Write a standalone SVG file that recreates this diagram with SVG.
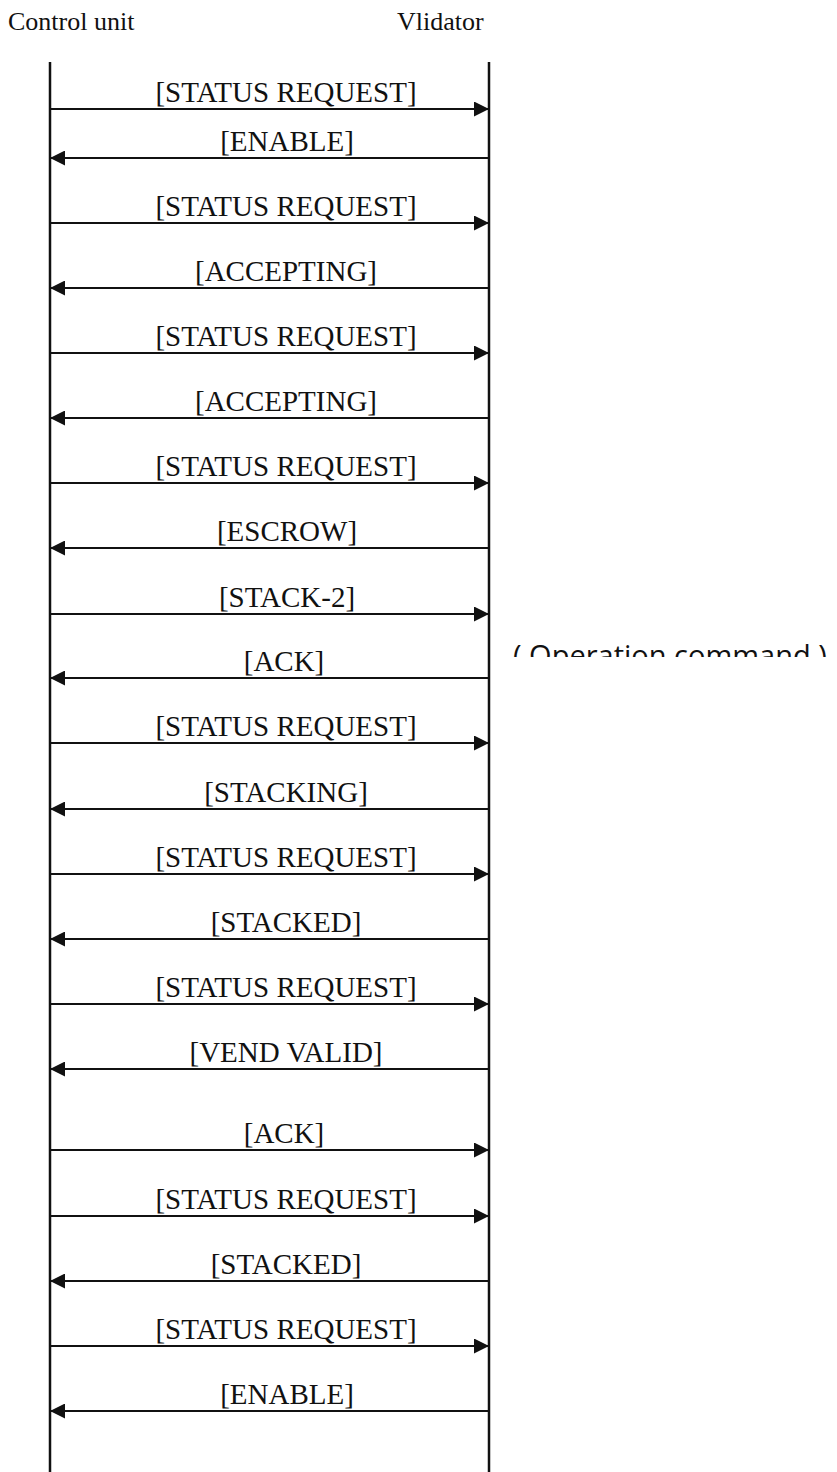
<svg xmlns="http://www.w3.org/2000/svg" width="837" height="1472" viewBox="0 0 837 1472">
<style>
.hdr{font-family:"Liberation Serif","Times New Roman",serif;font-size:26px;fill:#111}
.lbl{font-family:"Liberation Serif","Times New Roman",serif;font-size:29px;fill:#111;text-anchor:middle}
.life{stroke:#111;stroke-width:2.5;fill:none}
.msg{stroke:#111;stroke-width:2;fill:none;marker-end:url(#ah)}
.note{font-family:"Open Sans","Noto Sans",sans-serif;font-size:29px;fill:#111}
</style>
<defs>
<marker id="ah" viewBox="0 0 15 15" refX="15" refY="7.5" markerWidth="15" markerHeight="15" markerUnits="userSpaceOnUse" orient="auto">
<path d="M0,0 L15,7.5 L0,15 z" fill="#111"/>
</marker>
<clipPath id="noteclip"><rect x="490" y="600" width="347" height="57"/></clipPath>
</defs>
<rect width="837" height="1472" fill="#fff"/>
<g id="control-unit">
<text class="hdr" x="8" y="30">Control unit</text>
<line class="life" x1="50" y1="62" x2="50" y2="1472"/>
</g>
<g id="validator">
<text class="hdr" x="397" y="30">Vlidator</text>
<line class="life" x1="489" y1="62" x2="489" y2="1472"/>
</g>
<g id="connectors">
<g><line class="msg" x1="50" y1="109" x2="489" y2="109"/><text class="lbl" x="286" y="102">[STATUS REQUEST]</text></g>
<g><line class="msg" x1="489" y1="158" x2="50" y2="158"/><text class="lbl" x="287" y="151">[ENABLE]</text></g>
<g><line class="msg" x1="50" y1="223" x2="489" y2="223"/><text class="lbl" x="286" y="216">[STATUS REQUEST]</text></g>
<g><line class="msg" x1="489" y1="288" x2="50" y2="288"/><text class="lbl" x="286" y="281">[ACCEPTING]</text></g>
<g><line class="msg" x1="50" y1="353" x2="489" y2="353"/><text class="lbl" x="286" y="346">[STATUS REQUEST]</text></g>
<g><line class="msg" x1="489" y1="418" x2="50" y2="418"/><text class="lbl" x="286" y="411">[ACCEPTING]</text></g>
<g><line class="msg" x1="50" y1="483" x2="489" y2="483"/><text class="lbl" x="286" y="476">[STATUS REQUEST]</text></g>
<g><line class="msg" x1="489" y1="548" x2="50" y2="548"/><text class="lbl" x="287" y="541">[ESCROW]</text></g>
<g><line class="msg" x1="50" y1="614" x2="489" y2="614"/><text class="lbl" x="287" y="607">[STACK-2]</text></g>
<g><line class="msg" x1="489" y1="678" x2="50" y2="678"/><text class="lbl" x="284" y="671">[ACK]</text></g>
<g><line class="msg" x1="50" y1="743" x2="489" y2="743"/><text class="lbl" x="286" y="736">[STATUS REQUEST]</text></g>
<g><line class="msg" x1="489" y1="809" x2="50" y2="809"/><text class="lbl" x="286" y="802">[STACKING]</text></g>
<g><line class="msg" x1="50" y1="874" x2="489" y2="874"/><text class="lbl" x="286" y="867">[STATUS REQUEST]</text></g>
<g><line class="msg" x1="489" y1="939" x2="50" y2="939"/><text class="lbl" x="286" y="932">[STACKED]</text></g>
<g><line class="msg" x1="50" y1="1004" x2="489" y2="1004"/><text class="lbl" x="286" y="997">[STATUS REQUEST]</text></g>
<g><line class="msg" x1="489" y1="1069" x2="50" y2="1069"/><text class="lbl" x="286" y="1062">[VEND VALID]</text></g>
<g><line class="msg" x1="50" y1="1150" x2="489" y2="1150"/><text class="lbl" x="284" y="1143">[ACK]</text></g>
<g><line class="msg" x1="50" y1="1216" x2="489" y2="1216"/><text class="lbl" x="286" y="1209">[STATUS REQUEST]</text></g>
<g><line class="msg" x1="489" y1="1281" x2="50" y2="1281"/><text class="lbl" x="286" y="1274">[STACKED]</text></g>
<g><line class="msg" x1="50" y1="1346" x2="489" y2="1346"/><text class="lbl" x="286" y="1339">[STATUS REQUEST]</text></g>
<g><line class="msg" x1="489" y1="1411" x2="50" y2="1411"/><text class="lbl" x="287" y="1404">[ENABLE]</text></g>
</g>
<g id="operation-note" clip-path="url(#noteclip)">
<text class="note" x="513" y="666">( Operation command )</text>
</g>
</svg>
